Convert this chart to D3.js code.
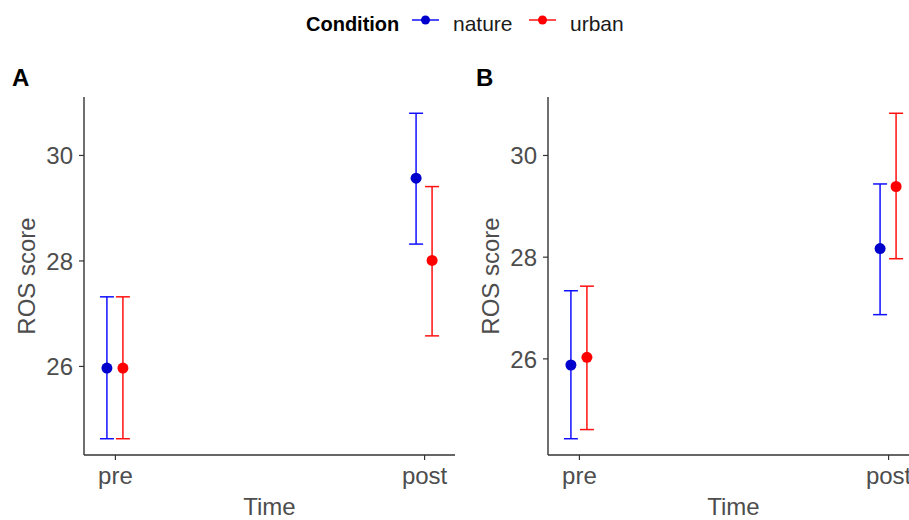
<!DOCTYPE html>
<html>
<head>
<meta charset="utf-8">
<script src="https://cdn.jsdelivr.net/npm/d3@7"></script>
<style>
  body { margin: 0; background: #fff; }
  text { font-family: "Liberation Sans", Arial, sans-serif; }
</style>
</head>
<body>
<script>
// data
const times = ["pre", "post"];
const conditions = ["nature", "urban"];
const yTicks = [26, 28, 30];

// panel A
const natureMeanA = [25.96, 29.56];
const natureLowA = [24.62, 28.31];
const natureHighA = [27.31, 30.79];
const urbanMeanA = [25.96, 28.00];
const urbanLowA = [24.62, 26.57];
const urbanHighA = [27.31, 29.40];

// panel B
const natureMeanB = [25.87, 28.16];
const natureLowB = [24.42, 26.86];
const natureHighB = [27.33, 29.43];
const urbanMeanB = [26.02, 29.38];
const urbanLowB = [24.60, 27.96];
const urbanHighB = [27.42, 30.82];

const colors = {nature: "#0000cd", urban: "#ff0000"};
const lineColors = {nature: "#1010ff", urban: "#ff1010"};

const W = 909, H = 520;
const svg = d3.select("body").append("svg")
  .attr("width", W)
  .attr("height", H);

function rows(tag, mean, low, high) {
  return times.map((t, i) => ({cond: tag, time: t, mean: mean[i], low: low[i], high: high[i]}));
}

const panelA = rows("nature", natureMeanA, natureLowA, natureHighA)
  .concat(rows("urban", urbanMeanA, urbanLowA, urbanHighA));
const panelB = rows("nature", natureMeanB, natureLowB, natureHighB)
  .concat(rows("urban", urbanMeanB, urbanLowB, urbanHighB));

function drawPanel(data, left, label) {
  const top = 97, bottom = 455, width = 371;
  const g = svg.append("g");

  const x = d3.scalePoint().domain(times).range([left, left + width]).padding(0.1);
  const dodge = d3.scalePoint().domain(conditions).range([-8, 8]);

  const lo = d3.min(data, d => d.low), hi = d3.max(data, d => d.high);
  const pad = (hi - lo) * 0.05;
  const y = d3.scaleLinear().domain([lo - pad, hi + pad]).range([bottom, top]);

  // axes
  const ax = g.append("g")
    .attr("transform", `translate(0,${bottom})`)
    .call(d3.axisBottom(x).tickSize(5).tickPadding(6).tickSizeOuter(0));
  const ay = g.append("g")
    .attr("transform", `translate(${left},0)`)
    .call(d3.axisLeft(y).tickValues(yTicks).tickFormat(d3.format("d")).tickSize(5).tickPadding(6).tickSizeOuter(0));

  [ax, ay].forEach(a => {
    a.select(".domain").attr("stroke", "#333").attr("stroke-width", 1.4);
    a.selectAll(".tick line").attr("stroke", "#333").attr("stroke-width", 1.2);
    a.selectAll(".tick text")
      .attr("fill", "#4d4d4d")
      .style("font-size", "24px")
      .style("font-family", "'Liberation Sans', Arial, sans-serif");
  });
  ay.selectAll(".tick text").attr("dy", "0.36em");
  ax.selectAll(".tick text").attr("dy", "0.75em");
  // extend y domain line to plot top / x domain line full width
  ay.select(".domain").attr("d", `M0,${bottom}V${top}`);
  ax.select(".domain").attr("d", `M${left},0H${left + width}`);

  // error bars
  const bars = g.append("g").selectAll("g.bar")
    .data(data)
    .enter()
    .append("g")
    .attr("class", "bar")
    .attr("transform", d => `translate(${x(d.time) + dodge(d.cond)},0)`);

  bars.append("line")
    .attr("y1", d => y(d.low))
    .attr("y2", d => y(d.high))
    .attr("stroke", d => lineColors[d.cond])
    .attr("stroke-width", 1.5);
  bars.append("line")
    .attr("x1", -7).attr("x2", 7)
    .attr("y1", d => y(d.high)).attr("y2", d => y(d.high))
    .attr("stroke", d => lineColors[d.cond])
    .attr("stroke-width", 1.5);
  bars.append("line")
    .attr("x1", -7).attr("x2", 7)
    .attr("y1", d => y(d.low)).attr("y2", d => y(d.low))
    .attr("stroke", d => lineColors[d.cond])
    .attr("stroke-width", 1.5);
  bars.append("circle")
    .attr("cy", d => y(d.mean))
    .attr("r", 5.5)
    .attr("fill", d => colors[d.cond]);

  // titles
  g.append("text")
    .attr("x", left + width / 2)
    .attr("y", 515)
    .attr("text-anchor", "middle")
    .attr("fill", "#4d4d4d")
    .style("font-size", "24px")
    .text("Time");

  g.append("text")
    .attr("transform", `translate(${left - 49},${(top + bottom) / 2}) rotate(-90)`)
    .attr("text-anchor", "middle")
    .attr("fill", "#4d4d4d")
    .style("font-size", "24px")
    .text("ROS score");

  g.append("text")
    .attr("x", left - 72)
    .attr("y", 86)
    .attr("font-weight", "bold")
    .attr("fill", "#000")
    .style("font-size", "24px")
    .text(label);
}

drawPanel(panelA, 84, "A");
drawPanel(panelB, 548, "B");

// legend
const leg = svg.append("g");
leg.append("text")
  .attr("x", 306)
  .attr("y", 31)
  .attr("font-weight", "bold")
  .style("font-size", "20px")
  .text("Condition");

const keyX = d3.scaleOrdinal().domain(conditions).range([412, 529]);
const items = leg.selectAll("g.key")
  .data(conditions)
  .enter()
  .append("g")
  .attr("class", "key")
  .attr("transform", d => `translate(${keyX(d)},20)`);
items.append("line")
  .attr("x1", 0).attr("x2", 27)
  .attr("stroke", d => lineColors[d])
  .attr("stroke-width", 1.5);
items.append("circle")
  .attr("cx", 13.5)
  .attr("r", 4.5)
  .attr("fill", d => colors[d]);
items.append("text")
  .attr("x", 41)
  .attr("y", 11)
  .attr("fill", "#1a1a1a")
  .style("font-size", "21px")
  .text(d => d);
</script>
</body>
</html>
